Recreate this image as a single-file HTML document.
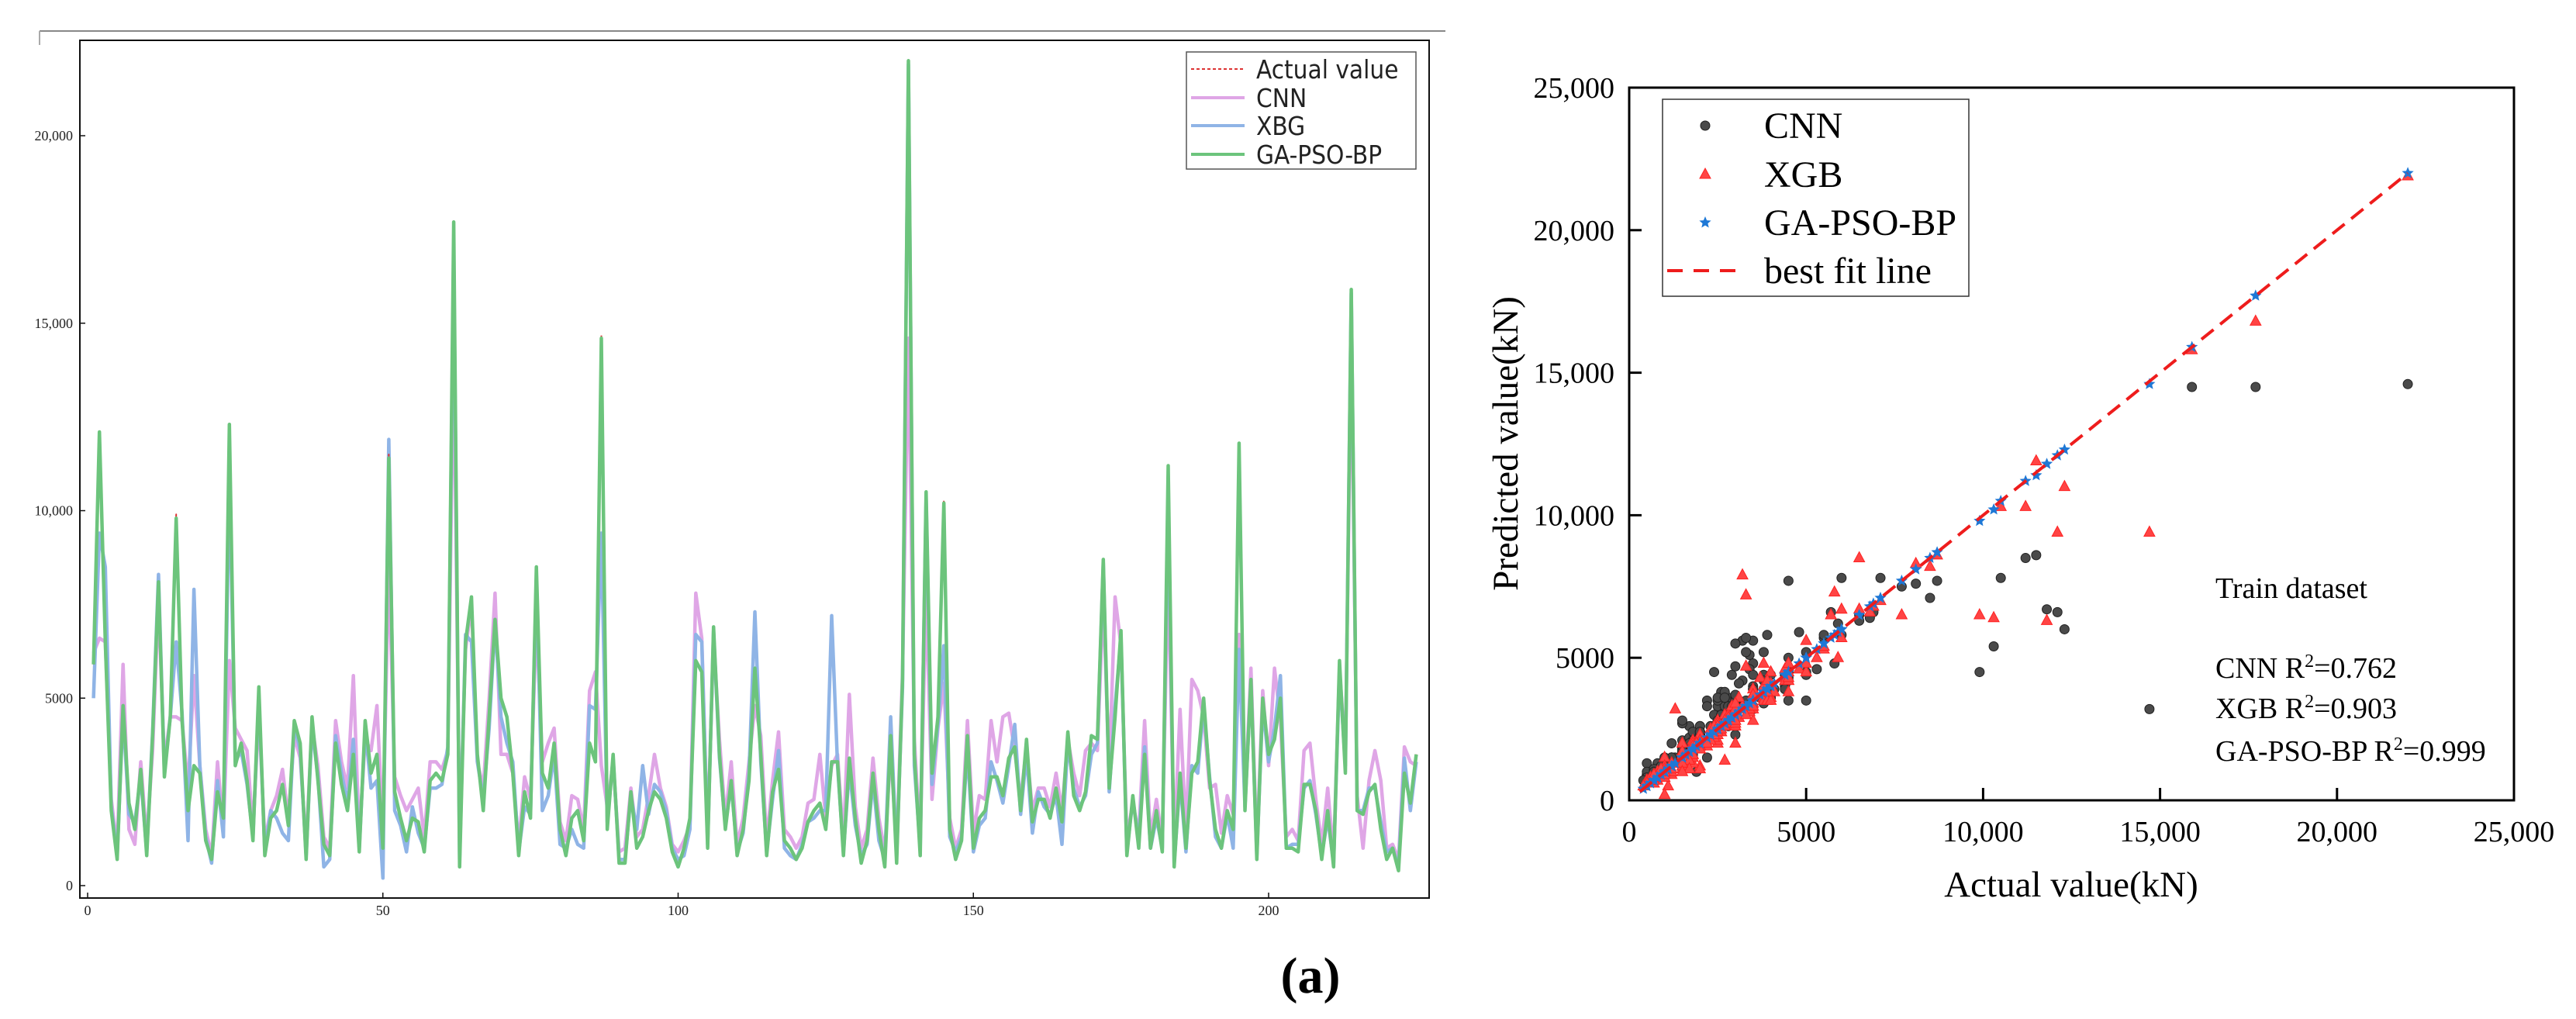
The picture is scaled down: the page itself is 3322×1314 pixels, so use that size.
<!DOCTYPE html>
<html><head><meta charset="utf-8"><style>
html,body{margin:0;padding:0;background:#fff;}
svg{display:block;}
</style></head><body>
<svg id="fig" width="3322" height="1314" viewBox="0 0 3322 1314" xmlns="http://www.w3.org/2000/svg">
<rect x="0" y="0" width="3322" height="1314" fill="#fff"/>
<line x1="51" y1="40" x2="1864" y2="40" stroke="#888" stroke-width="2"/>
<line x1="51" y1="40" x2="51" y2="58" stroke="#aaa" stroke-width="2"/>
<g id="left"></g>
<g id="right"></g>
<text x="1690" y="1280" font-family="Liberation Serif, serif" font-size="66" font-weight="bold" text-anchor="middle">(a)</text>
</svg>
<script>
const actual=[5900,12100,6500,2000,700,4800,2200,1500,3100,800,4000,8100,2900,4500,9900,4400,2000,3200,3000,1200,700,2500,1800,12300,3200,3800,2800,1200,5300,800,1800,2000,2700,1600,4400,3800,700,4500,2800,1100,800,3800,2700,2000,3500,900,4400,3000,3500,1000,11500,2500,1800,1200,1800,1700,900,2800,3000,2800,3500,17700,500,6500,7700,3500,2000,4500,7100,5000,4500,3000,800,2500,1800,8500,3000,2600,3800,1500,800,1800,2000,1200,3800,3300,14700,1500,3500,600,600,2500,1000,1300,2000,2500,2300,1800,900,500,1000,1800,6000,5700,1000,6900,3500,1500,2800,800,1500,2800,5800,3500,800,2500,3100,1200,1000,700,1000,1700,2000,2200,1500,3300,3300,800,3400,1800,600,1200,3000,1500,500,4000,600,5500,22000,3500,800,10500,3000,4500,10300,1500,700,1200,4000,1000,1800,2000,2900,2900,2400,3400,3700,2000,3900,1700,2300,2300,1800,2600,1700,4100,2400,2000,2500,4000,3900,8700,2600,4500,6800,800,2400,1000,3500,1000,2000,900,11200,500,3000,1000,3000,3300,5000,2800,1500,1000,2000,1500,11800,2000,5500,700,5000,3500,3900,5000,1000,1000,900,2700,2700,2000,700,2000,500,6000,3000,15900,2000,1900,2500,2700,1500,700,1000,400,3000,2200,3500];
const gaPsoBp=[5900,12100,6500,2000,700,4800,2200,1500,3100,800,4000,8100,2900,4500,9800,4400,2000,3200,3000,1200,700,2500,1800,12300,3200,3800,2800,1200,5300,800,1800,2000,2700,1600,4400,3800,700,4500,2800,1100,800,3800,2700,2000,3500,900,4400,3000,3500,1000,11400,2500,1800,1200,1800,1700,900,2800,3000,2800,3500,17700,500,6500,7700,3500,2000,4500,7100,5000,4500,3000,800,2500,1800,8500,3000,2600,3800,1500,800,1800,2000,1200,3800,3300,14600,1500,3500,600,600,2500,1000,1300,2000,2500,2300,1800,900,500,1000,1800,6000,5700,1000,6900,3500,1500,2800,800,1500,2800,5800,3500,800,2500,3100,1200,1000,700,1000,1700,2000,2200,1500,3300,3300,800,3400,1800,600,1200,3000,1500,500,4000,600,5500,22000,3500,800,10500,3000,4500,10200,1500,700,1200,4000,1000,1800,2000,2900,2900,2400,3400,3700,2000,3900,1700,2300,2300,1800,2600,1700,4100,2400,2000,2500,4000,3900,8700,2600,4500,6800,800,2400,1000,3500,1000,2000,900,11200,500,3000,1000,3000,3300,5000,2800,1500,1000,2000,1500,11800,2000,5500,700,5000,3500,3900,5000,1000,1000,900,2700,2700,2000,700,2000,500,6000,3000,15900,2000,1900,2500,2700,1500,700,1000,400,3000,2200,3500];
const cnn=[6200,6600,6500,2300,1000,5900,1500,1100,3300,1200,3600,7600,3300,4500,4500,4400,2600,5600,3200,1500,800,3300,1500,6000,4200,3900,3600,1500,4600,1200,2000,2400,3100,1800,4000,3400,1100,4300,3200,1300,1000,4400,3300,2600,5600,1300,3900,3600,4800,1500,8600,2900,2400,2000,2300,2600,1300,3300,3300,3100,3600,14500,1300,6300,7500,3300,2600,5000,7800,3500,3500,3000,1100,2900,2300,7100,3300,3800,4200,1700,1200,2400,2300,1500,5200,5700,3200,2100,3300,900,1000,2600,1300,1500,2400,3500,2600,2100,1100,900,1200,1600,7800,6600,1300,6600,3900,1800,3300,1100,1800,3300,4800,4000,1200,2800,4100,1500,1300,1000,1300,2200,2300,3500,1800,3200,3500,1200,5100,2100,1000,1500,3400,1800,900,3600,1000,5700,14600,3900,1200,7800,2300,4200,5400,1800,1000,1500,4400,1400,2400,2300,4400,3300,4500,4600,3600,2300,3700,2000,2600,2600,2100,3000,2000,3900,3000,2400,3600,3800,3600,7700,3000,7700,6400,1300,2200,1400,4400,1300,2300,1200,8500,1000,4700,1400,5500,5200,4500,2600,2700,1400,2400,1900,6700,2300,5800,1000,5200,3200,5800,4400,1300,1500,1200,3600,3800,2300,1100,2600,800,5800,3500,14500,2400,1000,2800,3600,2800,1000,1100,700,3700,3300,3200];
const xgb=[5000,9400,8500,2100,800,4600,1900,1700,2900,900,4100,8300,3000,4500,6500,4600,1200,7900,3200,1300,600,2800,1300,11000,3300,3600,2700,1300,5000,900,2000,1800,1400,1200,4300,3600,800,4200,2900,500,700,4000,3000,2200,3900,1000,4200,2600,2800,200,11900,2000,1600,900,2100,1400,1000,2600,2600,2700,3700,16800,700,6700,6500,3300,2300,4200,7000,4500,3800,3300,900,2100,1900,8200,2000,2400,3500,1100,1000,1500,1100,1000,4800,4700,9400,1700,3400,700,700,2400,1500,3200,1900,2700,2500,2000,1000,700,800,1500,6700,6500,1100,6800,3400,1600,2700,900,1400,3000,7300,3300,900,2300,3600,1000,800,700,1100,1700,1800,2000,2000,7200,3200,900,3100,1600,800,1100,2800,1200,700,4500,800,5300,21900,3200,1000,10300,2700,4300,6400,1300,900,1300,3600,900,1600,1800,3300,2800,2200,3200,4300,1900,3500,1400,2500,2100,1900,2400,1100,3800,2600,2100,2400,3500,3800,8600,2500,4800,6600,900,2300,1200,3700,1000,1800,1000,10300,600,2800,900,3200,3000,4800,2900,1300,1000,1900,1000,6300,2100,5400,800,4800,3300,4200,5600,1000,1100,1100,2600,2800,1900,800,1800,600,5700,3200,15800,2000,2000,2600,2600,1700,900,1000,500,3400,2000,3300];
const leftYTicks=[0,5000,10000,15000,20000];
const leftYLabels=["0","5000","10,000","15,000","20,000"];
const leftXTicks=[0,50,100,150,200];
const rightTicks=[0,5000,10000,15000,20000,25000];
const rightTickLabels=["0","5000","10,000","15,000","20,000","25,000"];
const legendLeft=["Actual value","CNN","XBG","GA-PSO-BP"];
const legendRight=["CNN","XGB","GA-PSO-BP","best fit line"];
const fitRange=[300,22000];

const NS="http://www.w3.org/2000/svg";
function mk(parent,tag,attrs){const e=document.createElementNS(NS,tag);for(const k in attrs)e.setAttribute(k,attrs[k]);parent.appendChild(e);return e;}

// ---------- left line chart ----------
const L=document.getElementById('left');
const lx=i=>113+i*7.615;
const ly=v=>1142-v*(1142-175)/20000;
const lf=mk(L,'rect',{x:103,y:52,width:1740,height:1106,fill:'none',stroke:'#111','stroke-width':2});


leftYTicks.forEach((v,k)=>{
  const t=mk(L,'text',{x:94,y:ly(v)+6,'text-anchor':'end','font-family':'Liberation Serif, serif','font-size':18,fill:'#222'});
  t.textContent=leftYLabels[k];
  
  
  mk(L,'line',{x1:103,y1:ly(v),x2:110,y2:ly(v),stroke:'#111','stroke-width':1.5});
});
leftXTicks.forEach(v=>{
  const t=mk(L,'text',{x:lx(v),y:1180,'text-anchor':'middle','font-family':'Liberation Serif, serif','font-size':18,fill:'#222'});
  t.textContent=String(v);
  
  
  mk(L,'line',{x1:lx(v),y1:1158,x2:lx(v),y2:1151,stroke:'#111','stroke-width':1.5});
});
function pathOf(arr){return arr.map((v,i)=>(i?'L':'M')+lx(i+1).toFixed(1)+','+ly(v).toFixed(1)).join(' ');}
const series=[[cnn,'#dfa6e6',4.5,'',"cnn-line"],[xgb,'#8fb4e6',4.5,'',"xgb-line"],[actual,'#d33',2,'5,4',"actual-line"],[gaPsoBp,'#6cc47c',4.5,'',"ga-pso-bp-line"]];
series.forEach(s=>{
  const p=mk(L,'path',{d:pathOf(s[0]),fill:'none',stroke:s[1],'stroke-width':s[2],'stroke-linejoin':'round'});
  if(s[3])p.setAttribute('stroke-dasharray',s[3]);
  
  
});
const lg=mk(L,'g',{});


mk(lg,'rect',{x:1530,y:67,width:296,height:151,fill:'#fff',stroke:'#555','stroke-width':1.5});
const lcol=['#d33','#dfa6e6','#8fb4e6','#6cc47c'];
[89,126,162,199].forEach((y,k)=>{
  const ln=mk(lg,'line',{x1:1536,y1:y,x2:1605,y2:y,stroke:lcol[k],'stroke-width':k?4:2});
  if(!k)ln.setAttribute('stroke-dasharray','4,3');
  const t=mk(lg,'text',{x:1620,y:y+12,'font-family':'Liberation Sans Narrow, DejaVu Sans Condensed, sans-serif','font-size':33,fill:'#222'});
  t.textContent=legendLeft[k];
  
  
});

// ---------- right scatter ----------
const R=document.getElementById('right');
const rx=v=>2101+v*(3242-2101)/25000;
const ry=v=>1032-v*(1032-113)/25000;
const fr=mk(R,'rect',{x:2101,y:113,width:1141,height:919,fill:'none',stroke:'#000','stroke-width':3});


rightTicks.forEach((v,k)=>{
  mk(R,'line',{x1:rx(v),y1:1032,x2:rx(v),y2:1016,stroke:'#000','stroke-width':3});
  mk(R,'line',{x1:2101,y1:ry(v),x2:2117,y2:ry(v),stroke:'#000','stroke-width':3});
  const tx=mk(R,'text',{x:rx(v),y:1085,'text-anchor':'middle','font-family':'Liberation Serif, serif','font-size':38});
  tx.textContent=rightTickLabels[k];
  
  
  const ty=mk(R,'text',{x:2082,y:ry(v)+13,'text-anchor':'end','font-family':'Liberation Serif, serif','font-size':38});
  ty.textContent=rightTickLabels[k];
  
  
});
const xt=mk(R,'text',{x:2671,y:1156,'text-anchor':'middle','font-family':'Liberation Serif, serif','font-size':47});
xt.textContent='Actual value(kN)';


const yt=mk(R,'text',{x:0,y:0,'text-anchor':'middle','font-family':'Liberation Serif, serif','font-size':47,transform:'translate(1957,572) rotate(-90)'});
yt.textContent='Predicted value(kN)';



function circle(g,x,y){mk(g,'circle',{cx:x,cy:y,r:6,fill:'#4a4a4a',stroke:'#222','stroke-width':1});}
function tri(g,x,y){mk(g,'path',{d:`M${x},${y-8} L${x+7},${y+5} L${x-7},${y+5} Z`,fill:'#ff4444',stroke:'#f22','stroke-width':1});}
function star(g,x,y,s){let d='';for(let k=0;k<10;k++){const a=-Math.PI/2+k*Math.PI/5,r=k%2?s*0.45:s;d+=(k?'L':'M')+(x+r*Math.cos(a)).toFixed(1)+','+(y+r*Math.sin(a)).toFixed(1);}mk(g,'path',{d:d+'Z',fill:'#1e78d6'});}

const gC=mk(R,'g',{});


actual.forEach((a,i)=>circle(gC,rx(a),ry(cnn[i])));
const gX=mk(R,'g',{});


actual.forEach((a,i)=>tri(gX,rx(a),ry(xgb[i])));
const gG=mk(R,'g',{});


actual.forEach((a,i)=>star(gG,rx(a),ry(gaPsoBp[i]),8));
const fl=mk(R,'line',{x1:rx(fitRange[0]),y1:ry(fitRange[0]),x2:rx(fitRange[1]),y2:ry(fitRange[1]),stroke:'#ee1c1c','stroke-width':4,'stroke-dasharray':'20,11'});



const rg=mk(R,'g',{});


mk(rg,'rect',{x:2144,y:128,width:395,height:254,fill:'#fff',stroke:'#333','stroke-width':1.5});
[162,225,287,349].forEach((y,k)=>{
  if(k===0)circle(rg,2199,y);
  if(k===1)tri(rg,2199,y);
  if(k===2)star(rg,2199,y,8);
  if(k===3)mk(rg,'line',{x1:2150,y1:y,x2:2252,y2:y,stroke:'#ee1c1c','stroke-width':4,'stroke-dasharray':'20,14'});
  const t=mk(rg,'text',{x:2275,y:y+16,'font-family':'Liberation Serif, serif','font-size':48});
  t.textContent=legendRight[k];
  
  
});
const ann=[["Train dataset",771,null],["CNN R",874,"=0.762"],["XGB R",926,"=0.903"],["GA-PSO-BP R",981,"=0.999"]];
ann.forEach(a=>{
  const t=mk(R,'text',{x:2857,y:a[1],'font-family':'Liberation Serif, serif','font-size':38});
  
  
  t.appendChild(document.createTextNode(a[0]));
  if(a[2]){const s=mk(t,'tspan',{dy:-14,'font-size':24});s.textContent='2';const r=mk(t,'tspan',{dy:14});r.textContent=a[2];}
});
</script>
</body></html>
